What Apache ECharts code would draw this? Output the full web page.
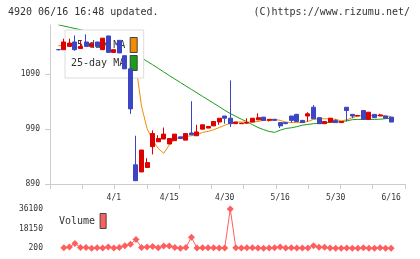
<!DOCTYPE html>
<html><head><meta charset="utf-8">
<script src="https://cdn.jsdelivr.net/npm/echarts@6/dist/echarts.min.js"></script>
<style>html,body{margin:0;padding:0;background:#fff}#c{width:420px;height:259px}</style>
</head><body><div id="c"></div>
<script>
const dates = ['3/17','3/18','3/19','3/21','3/24','3/25','3/26','3/27','3/28','3/31',
 '4/1','4/2','4/3','4/4','4/7','4/8','4/9','4/10','4/11','4/14',
 '4/15','4/16','4/17','4/18','4/21','4/22','4/23','4/24','4/25','4/28',
 '4/30','5/1','5/2','5/7','5/8','5/9','5/12','5/13','5/14','5/15',
 '5/16','5/19','5/20','5/21','5/22','5/23','5/26','5/27','5/28','5/29',
 '5/30','6/2','6/3','6/4','6/5','6/6','6/9','6/10','6/11','6/12','6/16'];
const openP = [1135,1135,1141,1149,1137,1149,1141,1149,1135,1160,
 1130,1152,1124,1100,925,912,920,958,967,972,
 963,969,976,970,983,978,990,992,996,1003,
 1014,1010,1000,1000,1001,1003,1007,1012,1006,1008,
 1002,1002,1014,1017,1006,1014,1030,1011,1000,1003,
 1006,1002,1030,1017,1014,1024,1008,1017,1014,1014,1012];
const closeP = [1135,1149,1147,1135,1141,1141,1146,1141,1156,1130,
 1135,1129,1100,1027,896,952,929,982,973,981,
 973,981,973,982,980,985,998,995,1004,1010,
 1010,1000,1003,1001,1002,1010,1011,1006,1008,1006,
 996,1000,1006,1004,1002,1018,1009,1000,1004,1010,
 1002,1004,1024,1014,1015,1008,1021,1011,1016,1010,1003];
const lowP = [1134,1135,1141,1133,1137,1141,1141,1141,1135,1130,
 1130,1129,1100,1018,896,912,920,944,967,972,
 963,969,973,970,979,978,990,992,996,998,
 1000,994,1000,1000,1000,1003,1007,1006,1004,1006,
 992,1000,1002,1004,1002,1004,1009,1000,1000,1003,
 1002,1002,1004,1010,1014,1008,1008,1011,1014,1010,1003];
const highP = [1136,1155,1155,1161,1152,1163,1146,1149,1156,1160,
 1135,1152,1124,1100,978,952,937,988,979,993,
 973,981,976,982,1041,998,998,995,1004,1010,
 1014,1079,1003,1001,1010,1010,1019,1012,1008,1008,
 1002,1002,1014,1018,1006,1021,1034,1011,1004,1010,
 1008,1004,1030,1017,1016,1024,1021,1017,1018,1014,1012];
const ma5 = [1142,1143,1143,1142,1141,1142,1142,1142,1144,1143,
 1141,1140,1130,1120,1105,1032,991,970,955,946,
 961,972,975,977,978,980,984,986,989,993,
 997,1001,1003,1003,1003,1003,1004,1006,1007,1008,
 1006,1003,1002,1002,1002,1004,1008,1009,1009,1009,
 1008,1005,1007,1011,1014,1015,1015,1015,1015,1014,1013];
const ma25 = [1180.4,1178.2,1175.8,1173.6,1171.5,1168.5,1165.3,1161.6,1157.6,1153.3,
 1148.5,1143.5,1138,1132.2,1126.4,1120.2,1113.8,1107.5,1101,1094.4,
 1087.8,1081.5,1075.1,1068.7,1062.5,1056.2,1049.8,1043.6,1037.3,1031.1,
 1024.5,1018.5,1013.3,1008.2,1003.6,998.2,993.1,989.1,985.8,984.2,
 988.2,991.3,992.5,994.5,997.3,998.7,1000,1000.4,1001.6,1002.2,
 1002.7,1004,1005.1,1007.3,1007.8,1007.8,1007.8,1007.8,1008.2,1009.1,1010];
const volume = ['-',800,1300,4600,1000,1000,300,600,500,1300,
 500,1000,2600,3800,8300,1000,1500,1800,700,2200,
 2200,900,300,900,10200,400,600,700,700,400,
 400,36100,800,400,700,700,400,200,400,700,
 1500,400,700,400,400,400,2600,1200,1200,400,
 300,300,400,300,300,700,300,300,700,300,300];
const labelDates = ['4/1','4/15','4/30','5/16','5/30','6/16'];
const priceTicks = [890,990,1090];
const volTicks = [200,18150,36100];

const F = 'DejaVu Sans Mono';
const PAD_L = 1, PAD_R = 2;
const cats = [...Array(PAD_L).fill(''), ...dates, ...Array(PAD_R).fill('')];
const pad = (arr, e) => [...Array(PAD_L).fill(e), ...arr, ...Array(PAD_R).fill(e)];
const kData = pad(dates.map((d, i) => [openP[i], closeP[i], lowP[i], highP[i]]), ['-','-','-','-']);

const UP = '#dd0000', DOWN = '#3c46c4';
const chart = echarts.init(document.getElementById('c'), null, {renderer: 'canvas'});
chart.setOption({
  animation: false,
  backgroundColor: '#fff',
  graphic: [
    {type: 'text', left: 8, top: 7, style: {text: '4920 06/16 16:48 updated.', font: '10px "DejaVu Sans Mono"', fill: '#333'}},
    {type: 'text', right: 10, top: 7, style: {text: '(C)https://www.rizumu.net/', font: '10px "DejaVu Sans Mono"', fill: '#333'}}
  ],
  grid: [
    {left: 50, right: 15, top: 25, height: 159},
    {left: 50, right: 15, top: 209, height: 39.3}
  ],
  legend: [
    {data: ['5-day MA', '25-day MA'], left: 65, top: 30, orient: 'vertical', align: 'right',
     icon: 'rect', itemWidth: 7, itemHeight: 15, itemGap: 2, padding: [7, 6, 7, 6],
     backgroundColor: '#fff', borderColor: '#dcdcdc', borderWidth: 1, selectedMode: false,
     formatter: n => n.padStart(9, ' '),
     textStyle: {fontFamily: F, fontSize: 10, color: '#333'},
     itemStyle: {borderColor: '#444', borderWidth: 1}},
    {data: ['Volume'], left: 59, top: 213, orient: 'vertical', align: 'right',
     icon: 'rect', itemWidth: 6, itemHeight: 15, padding: 0, selectedMode: false,
     textStyle: {fontFamily: F, fontSize: 10, color: '#333'},
     itemStyle: {borderColor: '#444', borderWidth: 1}}
  ],
  xAxis: [
    {type: 'category', gridIndex: 0, data: cats, boundaryGap: true,
     axisLine: {lineStyle: {color: '#ccc'}}, axisTick: {show: false},
     axisLabel: {interval: (i, v) => labelDates.includes(v), fontFamily: F, fontSize: 8, color: '#333', margin: 10},
     splitLine: {show: false}},
    {type: 'value', gridIndex: 0, min: 0, max: 11, interval: 1, position: 'bottom',
     axisLine: {show: false}, axisTick: {show: true, length: 5, lineStyle: {color: '#ccc'}},
     axisLabel: {show: false}, splitLine: {show: false}},
    {type: 'category', gridIndex: 1, data: cats, boundaryGap: true, show: false}
  ],
  yAxis: [
    {type: 'value', gridIndex: 0, min: 890, max: 1180,
     axisLine: {show: true, lineStyle: {color: '#ccc'}},
     axisTick: {show: true, length: 5, customValues: priceTicks, lineStyle: {color: '#ccc'}},
     axisLabel: {customValues: priceTicks, formatter: v => String(v), fontFamily: F, fontSize: 8, color: '#333', margin: 10},
     splitLine: {show: false}},
    {type: 'value', gridIndex: 1, min: 200, max: 36100,
     axisLine: {show: false}, axisTick: {show: false},
     axisLabel: {customValues: volTicks, formatter: v => String(v), fontFamily: F, fontSize: 8, color: '#333', margin: 7},
     splitLine: {show: false}}
  ],
  series: [
    {type: 'line', name: '25-day MA', xAxisIndex: 0, yAxisIndex: 0, data: pad(ma25, '-'),
     symbol: 'none', z: 2, lineStyle: {color: '#1a9e1a', width: 1}, itemStyle: {color: '#1a9e1a'}},
    {type: 'line', name: '5-day MA', xAxisIndex: 0, yAxisIndex: 0, data: pad(ma5, '-'),
     symbol: 'none', z: 2, lineStyle: {color: '#f28c00', width: 1}, itemStyle: {color: '#f28c00'}},
    {type: 'candlestick', name: 'Price', xAxisIndex: 0, yAxisIndex: 0, data: kData, barWidth: 4.5, z: 5,
     itemStyle: {color: UP, color0: DOWN, borderColor: UP, borderColor0: DOWN, borderWidth: 1}},
    {type: 'line', name: 'Volume', xAxisIndex: 2, yAxisIndex: 1, data: pad(volume, '-'),
     symbol: 'diamond', symbolSize: 7, showAllSymbol: true, clip: false,
     lineStyle: {color: '#ff5e5e', width: 1}, itemStyle: {color: '#ff5e5e'}}
  ]
});
</script></body></html>
